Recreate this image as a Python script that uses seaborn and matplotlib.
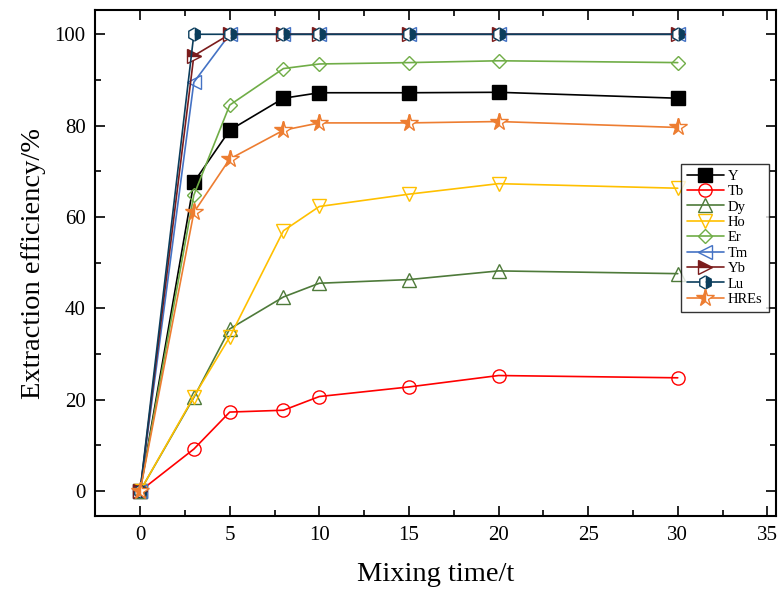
import numpy as np
import pandas as pd
import matplotlib
matplotlib.use("Agg")
import matplotlib.pyplot as plt
from matplotlib.ticker import MultipleLocator
import seaborn as sns

# mixing time (t) and extraction efficiency (%) for each element
time = [0, 3, 5, 8, 10, 15, 20, 30]
Y = [0, 67.6, 79.0, 86.0, 87.2, 87.2, 87.3, 86.0]
Tb = [0, 9.2, 17.3, 17.7, 20.7, 22.8, 25.3, 24.8]
Dy = [0, 20.5, 35.5, 42.5, 45.5, 46.3, 48.2, 47.6]
Ho = [0, 20.7, 33.7, 57.0, 62.3, 65.0, 67.3, 66.3]
Er = [0, 64.8, 84.5, 92.5, 93.5, 93.8, 94.2, 93.8]
Tm = [0, 89.5, 100, 100, 100, 100, 100, 100]
Yb = [0, 95.3, 100, 100, 100, 100, 100, 100]
Lu = [0, 100, 100, 100, 100, 100, 100, 100]
HREs = [0, 61.0, 72.7, 79.0, 80.6, 80.6, 80.9, 79.6]

names = ["Y", "Tb", "Dy", "Ho", "Er", "Tm", "Yb", "Lu", "HREs"]
values = [Y, Tb, Dy, Ho, Er, Tm, Yb, Lu, HREs]
colors = ["#000000", "#ff0000", "#4e7a3a", "#ffc000", "#70ad47",
          "#4472c4", "#7b1c1c", "#0b3d5c", "#ed7d31"]
# marker, fillstyle
styles = [("s", "full"), ("o", "none"), ("^", "none"), ("v", "none"),
          ("D", "none"), ("<", "none"), (">", "top"), ("h", "right"),
          ("*", "left")]

sns.set_style("ticks")
plt.rcParams["font.family"] = ["Liberation Serif", "DejaVu Serif"]
for key in ["text.color", "axes.labelcolor", "xtick.color", "ytick.color",
            "axes.edgecolor"]:
    plt.rcParams[key] = "black"

fig, ax = plt.subplots(figsize=(7.81, 5.92), dpi=100)

for name, vals, col, (mk, fs) in zip(names, values, colors, styles):
    df = pd.DataFrame({"time": time, "eff": vals})
    ms = 7.5 if mk == "D" else (13 if mk == "*" else 9.5)
    kw = dict(marker=mk, color=col, markeredgecolor=col, markersize=ms,
              linewidth=1.2, markeredgewidth=1.0, label=name)
    if fs == "none":
        kw["markerfacecolor"] = "none"
    elif fs == "full":
        kw["markerfacecolor"] = col
    else:
        kw["fillstyle"] = fs
        kw["markerfacecolor"] = col
        kw["markerfacecoloralt"] = "white"
    sns.lineplot(data=df, x="time", y="eff", ax=ax, **kw)

ax.set_xlim(-2.5, 35.5)
ax.set_ylim(-5.5, 105.3)
ax.xaxis.set_major_locator(MultipleLocator(5))
ax.xaxis.set_minor_locator(MultipleLocator(2.5))
ax.yaxis.set_major_locator(MultipleLocator(20))
ax.yaxis.set_minor_locator(MultipleLocator(10))
ax.tick_params(which="both", direction="in", top=True, right=True,
               width=1.2, labelsize=15, pad=7, colors="black")
ax.tick_params(which="major", length=7)
ax.tick_params(which="minor", length=4)
for sp in ax.spines.values():
    sp.set_linewidth(1.5)
    sp.set_color("black")

ax.set_xlabel("Mixing time/t", fontsize=20.5, labelpad=12)
ax.set_ylabel("Extraction efficiency/%", fontsize=20.5, labelpad=6)

leg = ax.legend(loc="upper right", bbox_to_anchor=(0.995, 0.705), fontsize=10.5,
                frameon=True, fancybox=False, edgecolor="black",
                handlelength=2.5, borderpad=0.4, labelspacing=0.15,
                handletextpad=0.3, borderaxespad=0.3)
leg.get_frame().set_linewidth(1.0)

fig.subplots_adjust(left=0.122, right=0.994, top=0.983, bottom=0.128)
fig.savefig("out.png", dpi=100)
